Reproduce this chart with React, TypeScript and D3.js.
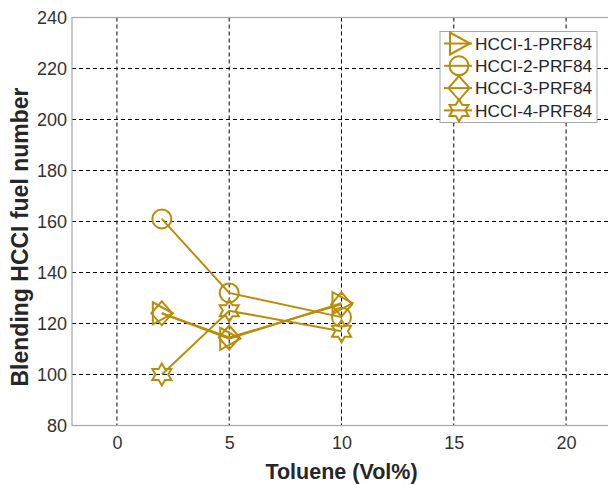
import { axisBottom, axisLeft, line, scaleLinear, select } from "d3";
import { useEffect, useRef } from "react";

const toluene = [2, 5, 10];
const hcci1 = [124, 114, 128];
const hcci2 = [161, 132, 122.5];
const hcci3 = [124, 114.5, 127.5];
const hcci4 = [100, 125, 117];
const seriesNames = ["HCCI-1-PRF84", "HCCI-2-PRF84", "HCCI-3-PRF84", "HCCI-4-PRF84"];
const xTicks = [0, 5, 10, 15, 20];
const yTicks = [80, 100, 120, 140, 160, 180, 200, 220, 240];

const gold = "#BA8C08";

// marker shapes, centred on 0,0
const triangleRight = "M-9,-11L-9,11L11,0Z";
const circle = "M-9.5,0A9.5,9.5 0 1,0 9.5,0A9.5,9.5 0 1,0 -9.5,0Z";
const diamond = "M0,-12L10.5,0L0,12L-10.5,0Z";
const hexagram = (() => {
  const pts: string[] = [];
  for (let i = 0; i < 12; i++) {
    const r = i % 2 === 0 ? 11 : 6.4;
    const a = (Math.PI / 6) * i - Math.PI / 2;
    pts.push(`${(r * Math.cos(a)).toFixed(2)},${(r * Math.sin(a)).toFixed(2)}`);
  }
  return "M" + pts.join("L") + "Z";
})();
const markers = [triangleRight, circle, diamond, hexagram];

const App = () => {
  const svgRef = useRef<SVGSVGElement>(null);
  const width = 608;
  const height = 485;

  useEffect(() => {
    const svg = select(svgRef.current);
    svg.selectAll("*").remove();

    const x = scaleLinear().domain([-2, 22]).range([72, 611]);
    const y = scaleLinear().domain([80, 240]).range([425.5, 17.5]);

    // grid
    const grid = svg.append("g");
    grid
      .selectAll("line.v")
      .data(xTicks)
      .join("line")
      .attr("x1", (d) => x(d))
      .attr("x2", (d) => x(d))
      .attr("y1", y(240))
      .attr("y2", y(80))
      .attr("stroke", "#000")
      .attr("stroke-width", 1)
      .attr("stroke-dasharray", "4,3");
    grid
      .selectAll("line.h")
      .data(yTicks.slice(1, -1))
      .join("line")
      .attr("x1", x(-2))
      .attr("x2", x(22))
      .attr("y1", (d) => y(d))
      .attr("y2", (d) => y(d))
      .attr("stroke", "#000")
      .attr("stroke-width", 1)
      .attr("stroke-dasharray", "4,3");

    // axes box
    svg
      .append("rect")
      .attr("x", x(-2))
      .attr("y", y(240))
      .attr("width", x(22) - x(-2))
      .attr("height", y(80) - y(240))
      .attr("fill", "none")
      .attr("stroke", "#a6a6a6")
      .attr("stroke-width", 1.2);

    const xAxis = axisBottom(x).tickValues(xTicks).tickSize(0).tickPadding(11);
    const gx = svg
      .append("g")
      .attr("transform", `translate(0,${y(80)})`)
      .call(xAxis);
    gx.select(".domain").remove();
    gx.selectAll("text")
      .attr("font-family", "Liberation Sans, Arial, sans-serif")
      .attr("font-size", 18)
      .attr("fill", "#333");

    const yAxis = axisLeft(y).tickValues(yTicks).tickSize(0).tickPadding(5);
    const gy = svg
      .append("g")
      .attr("transform", `translate(${x(-2)},0)`)
      .call(yAxis);
    gy.select(".domain").remove();
    gy.selectAll("text")
      .attr("font-family", "Liberation Sans, Arial, sans-serif")
      .attr("font-size", 18)
      .attr("fill", "#333");

    // axis titles
    svg
      .append("text")
      .attr("x", (x(-2) + x(22)) / 2)
      .attr("y", 479)
      .attr("text-anchor", "middle")
      .attr("font-family", "Liberation Sans, Arial, sans-serif")
      .attr("font-weight", "bold")
      .attr("font-size", 21.5)
      .attr("fill", "#262626")
      .text("Toluene (Vol%)");
    svg
      .append("text")
      .attr("transform", `translate(28,237) rotate(-90)`)
      .attr("text-anchor", "middle")
      .attr("font-family", "Liberation Sans, Arial, sans-serif")
      .attr("font-weight", "bold")
      .attr("font-size", 23)
      .attr("fill", "#262626")
      .text("Blending HCCI fuel number");

    // series
    const allSeries = [hcci1, hcci2, hcci3, hcci4];
    const gen = line<number>()
      .x((d, i) => x(toluene[i]))
      .y((d) => y(d));
    allSeries.forEach((vals, k) => {
      const g = svg.append("g");
      g.append("path")
        .attr("d", gen(vals))
        .attr("fill", "none")
        .attr("stroke", gold)
        .attr("stroke-width", 2);
      g.selectAll("path.m")
        .data(vals)
        .join("path")
        .attr("class", "m")
        .attr("d", markers[k])
        .attr("transform", (d, i) => `translate(${x(toluene[i])},${y(d)})`)
        .attr("fill", "none")
        .attr("stroke", gold)
        .attr("stroke-width", 2);
    });

    // legend
    const lg = svg.append("g").attr("transform", "translate(440,31.5)");
    lg.append("rect")
      .attr("width", 157)
      .attr("height", 91)
      .attr("fill", "#fff")
      .attr("stroke", "#a6a6a6")
      .attr("stroke-width", 1);
    seriesNames.forEach((name, k) => {
      const cy = 12 + k * 22.3;
      lg.append("line")
        .attr("x1", 4)
        .attr("x2", 32)
        .attr("y1", cy)
        .attr("y2", cy)
        .attr("stroke", gold)
        .attr("stroke-width", 2);
      lg.append("path")
        .attr("d", markers[k])
        .attr("transform", `translate(19,${cy})`)
        .attr("fill", "none")
        .attr("stroke", gold)
        .attr("stroke-width", 2);
      lg.append("text")
        .attr("x", 35)
        .attr("y", cy)
        .attr("dy", "0.36em")
        .attr("font-family", "Liberation Sans, Arial, sans-serif")
        .attr("font-size", 17.3)
        .attr("fill", "#262626")
        .text(name);
    });
  }, []);

  return (
    <svg
      ref={svgRef}
      width={width}
      height={height}
      style={{ position: "absolute", left: 0, top: 0, background: "#fff" }}
    />
  );
};

export default App;
